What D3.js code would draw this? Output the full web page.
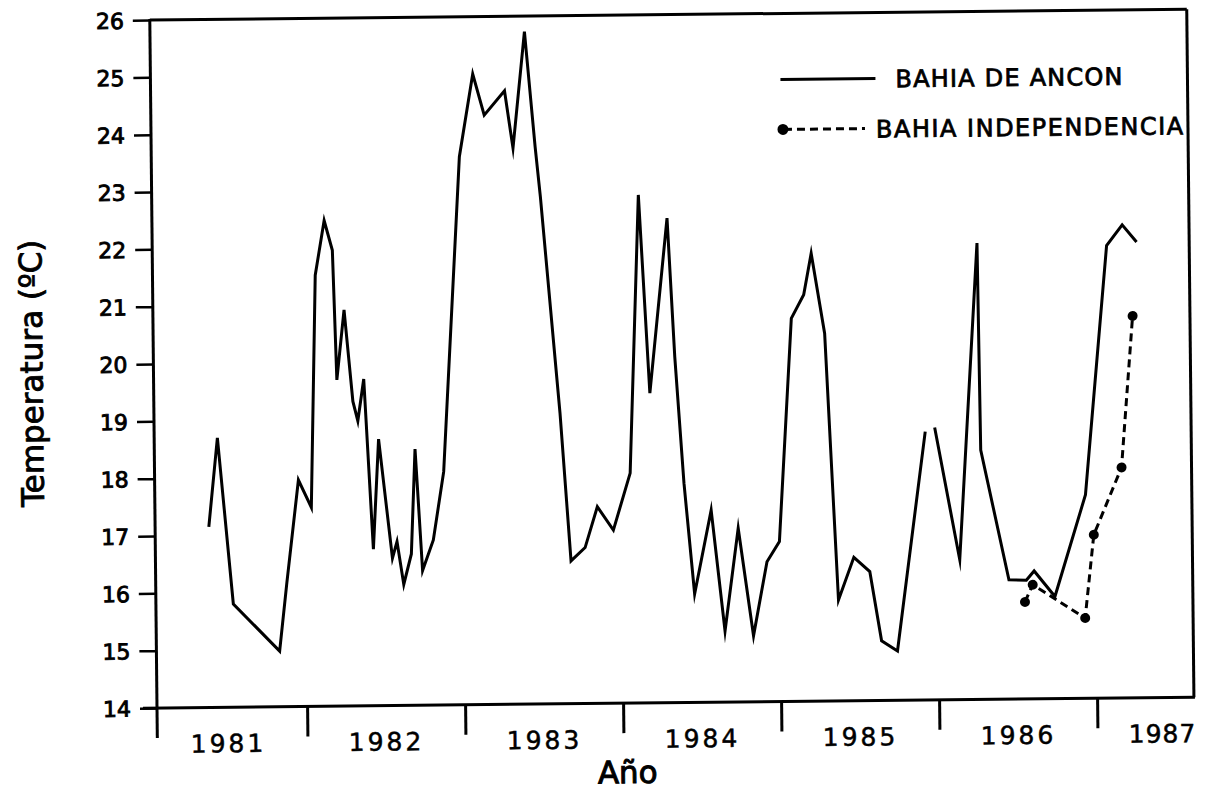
<!DOCTYPE html>
<html><head><meta charset="utf-8">
<script src="https://cdn.jsdelivr.net/npm/d3@7"></script>
<style>
body{margin:0;background:#fff;}
text{font-family:"DejaVu Sans",sans-serif;fill:#000;}
</style></head>
<body>
<svg id="chart" width="1206" height="806"></svg>
<script>
// Bahia de Ancon (solid line); null marks the break in the line
const anconDates = [1981.39,1981.45,1981.54,1981.83,1981.88,1981.96,1982.04,1982.08,1982.14,1982.19,
  1982.21,1982.26,1982.31,1982.34,1982.38,1982.43,1982.47,1982.55,1982.58,1982.62,
  1982.67,1982.70,1982.74,1982.81,1982.88,1983.00,1983.09,1983.16,1983.29,1983.34,
  1983.42,1983.48,1983.51,1983.62,1983.68,1983.77,1983.85,1983.95,1984.06,1984.13,
  1984.19,1984.31,1984.35,1984.40,1984.46,1984.57,1984.65,1984.74,1984.83,1984.92,
  1985.00,1985.09,1985.17,1985.22,1985.30,1985.37,1985.47,1985.57,1985.64,1985.74,
  1985.93,null,1985.99,1986.14,1986.27,1986.28,1986.45,1986.56,1986.61,1986.74,
  1986.94,1987.09,1987.19,1987.28];
const anconTemps = [17.15,18.70,15.80,14.97,16.16,17.95,17.47,21.52,22.47,21.95,
  19.69,20.91,19.31,18.97,19.70,16.73,18.65,16.57,16.86,16.11,
  16.64,18.47,16.35,16.88,18.07,23.56,25.00,24.28,24.70,23.70,
  25.73,23.72,22.85,19.07,16.49,16.72,17.43,17.02,18.01,22.86,
  19.40,22.45,20.03,17.82,15.89,17.35,15.24,17.03,15.15,16.44,
  16.79,20.68,21.09,21.81,20.41,15.76,16.50,16.25,15.04,14.86,
  18.68,null,18.75,16.44,21.96,18.35,16.08,16.07,16.23,15.78,
  17.55,21.89,22.25,21.95];
// Bahia Independencia (dashed line with dots)
const indepDates = [1986.55,1986.60,1986.93,1986.99,1987.17,1987.25];
const indepTemps = [15.69,15.99,15.40,16.85,18.02,20.66];
// Axis labels
const yTicks = [14,15,16,17,18,19,20,21,22,23,24,25,26];
const yearTicks = [1982,1983,1984,1985,1986,1987];
const yearLabels = ["1981","1982","1983","1984","1985","1986","1987"];
const legendNames = ["BAHIA DE ANCON","BAHIA INDEPENDENCIA"];

const X0 = 157, Y0 = 708;
const x = d3.scaleLinear().domain([1981.05, 1987.613]).range([X0, X0 + 1037]);
const y = d3.scaleLinear().domain([14, 26]).range([Y0, Y0 - 688]);

const svg = d3.select("#chart");
const g = svg.append("g").attr("transform", `rotate(-0.6,${X0},${Y0})`);

const ancon = anconDates.map((d,i)=>({t:d, v:anconTemps[i]}));
const indep = indepDates.map((d,i)=>({t:d, v:indepTemps[i]}));

// Frame: top and right lines
const [xl, xr] = x.range();
g.append("line").attr("x1", xl).attr("x2", xr).attr("y1", y(26)).attr("y2", y(26))
  .attr("stroke","#000").attr("stroke-width",3);
g.append("line").attr("x1", xr).attr("x2", xr).attr("y1", y(26)).attr("y2", y(14))
  .attr("stroke","#000").attr("stroke-width",3);

// Left axis
const yAxis = d3.axisLeft(y).tickValues(yTicks).tickSize(17).tickPadding(9).tickFormat(d3.format("d"));
const ya = g.append("g").attr("transform",`translate(${X0},0)`).call(yAxis);
ya.select(".domain").remove();
ya.selectAll(".tick line").attr("stroke","#000").attr("stroke-width",2.5);
ya.selectAll(".tick text").attr("font-size",22).attr("font-family","DejaVu Sans").attr("fill","#000")
  .attr("stroke","#000").attr("stroke-width",0.9).attr("dy","0.36em");
g.append("line").attr("x1",X0).attr("x2",X0).attr("y1",y(26)-1).attr("y2",Y0+30)
  .attr("stroke","#000").attr("stroke-width",3);

// Bottom axis
const xAxis = d3.axisBottom(x).tickValues(yearTicks).tickSize(30).tickFormat("");
const xa = g.append("g").attr("transform",`translate(0,${Y0})`).call(xAxis);
xa.select(".domain").remove();
xa.selectAll(".tick line").attr("stroke","#000").attr("stroke-width",3);
g.append("line").attr("x1",X0-14).attr("x2",xr+1).attr("y1",Y0).attr("y2",Y0)
  .attr("stroke","#000").attr("stroke-width",3);

// Year labels centered in each yearly interval
g.selectAll("text.year").data(yearLabels).join("text").attr("class","year")
  .attr("x",(d,i)=> i<6 ? x(+d+0.5) : xr+2)
  .attr("y",Y0+45)
  .attr("text-anchor",(d,i)=> i<6 ? "middle" : "end")
  .attr("font-size",25).attr("letter-spacing",(d,i)=> i<6 ? 3 : 1)
  .attr("stroke","#000").attr("stroke-width",0.5)
  .text(d=>d);

// Axis titles
g.append("text").attr("x",627).attr("y",788).attr("text-anchor","middle")
  .attr("font-size",31).attr("stroke","#000").attr("stroke-width",1).text("Año");
g.append("text").attr("transform","translate(46,372) rotate(-90)").attr("text-anchor","middle")
  .attr("font-size",31).attr("stroke","#000").attr("stroke-width",0.9).text("Temperatura (ºC)");

// Lines
const line = d3.line().defined(d=>d.v!=null).x(d=>x(d.t)).y(d=>y(d.v));
g.append("path").datum(ancon).attr("d",line).attr("fill","none").attr("stroke","#000")
  .attr("stroke-width",3).attr("stroke-linejoin","miter").attr("stroke-miterlimit",10);
g.append("path").datum(indep).attr("d",d3.line().x(d=>x(d.t)).y(d=>y(d.v)))
  .attr("fill","none").attr("stroke","#000").attr("stroke-width",3).attr("stroke-dasharray","8,5");
g.selectAll("circle.pt").data(indep).join("circle").attr("class","pt")
  .attr("cx",d=>x(d.t)).attr("cy",d=>y(d.v)).attr("r",5).attr("fill","#000");

// Legend
const lg = g.append("g");
lg.append("line").attr("x1",787).attr("x2",882).attr("y1",86).attr("y2",86)
  .attr("stroke","#000").attr("stroke-width",3);
lg.append("text").attr("x",902).attr("y",95).attr("font-size",24).attr("letter-spacing",1.2)
  .attr("stroke","#000").attr("stroke-width",0.8).text(legendNames[0]);
lg.append("line").attr("x1",790).attr("x2",871).attr("y1",136).attr("y2",136)
  .attr("stroke","#000").attr("stroke-width",3).attr("stroke-dasharray","8,5");
lg.append("circle").attr("cx",789).attr("cy",136).attr("r",5.5).attr("fill","#000");
lg.append("text").attr("x",882).attr("y",145).attr("font-size",24).attr("letter-spacing",1.5)
  .attr("stroke","#000").attr("stroke-width",0.8).text(legendNames[1]);
</script>
</body></html>
